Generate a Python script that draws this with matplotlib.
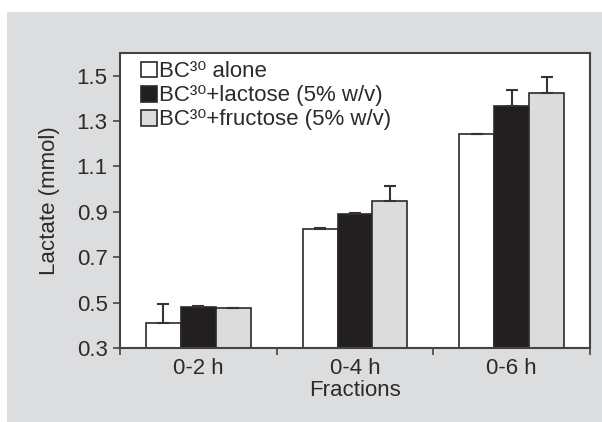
import matplotlib
matplotlib.use("Agg")
from matplotlib import pyplot as plt
from matplotlib.patches import Rectangle
import numpy as np

fractions = ["0-2 h", "0-4 h", "0-6 h"]
series_names = ["BC³⁰ alone", "BC³⁰+lactose (5% w/v)", "BC³⁰+fructose (5% w/v)"]
alone = [0.412, 0.824, 1.241]
alone_err = [0.083, 0.004, 0.004]
lactose = [0.482, 0.891, 1.366]
lactose_err = [0.002, 0.002, 0.069]
fructose = [0.476, 0.948, 1.425]
fructose_err = [0.002, 0.067, 0.071]
yticks = [0.3, 0.5, 0.7, 0.9, 1.1, 1.3, 1.5]

plt.rcParams["font.family"] = ["Liberation Sans", "DejaVu Sans"]

fs = 16
txt = "#2b2b2b"
edge = "#2a2a2a"

fig = plt.figure(figsize=(6.02, 4.22), dpi=100, facecolor="white")
fig.patches.append(Rectangle((7 / 602, 0), 1, 1 - 12 / 422, transform=fig.transFigure,
                             facecolor="#dcdddf", edgecolor="none", zorder=-10))
ax = fig.add_axes([120 / 602, 1 - 348 / 422, 470 / 602, 295 / 422])
ax.set_facecolor("white")

x = np.arange(1, len(fractions) + 1)
w = 0.223
colors = ["white", "#231f20", "#dcdcdc"]
vals = [alone, lactose, fructose]
errs = [alone_err, lactose_err, fructose_err]
for i in range(3):
    e = errs[i]
    ax.bar(x + (i - 1) * w, vals[i], w, bottom=0, color=colors[i], edgecolor=edge, linewidth=1.2,
           yerr=[np.zeros(len(e)), e], label=series_names[i],
           error_kw=dict(ecolor="#333333", elinewidth=1.5, capsize=4.3, capthick=1.5))

ax.set_xlim(0.5, 3.5)
ax.set_ylim(0.3, 1.6)
ax.set_yticks(yticks)
ax.set_yticklabels([f"{v:.1f}" for v in yticks], fontsize=fs, color=txt)
ax.set_xticks(x)
ax.set_xticklabels(fractions, fontsize=fs, color=txt)
ax.tick_params(axis="x", which="major", length=0, pad=7)
ax.set_xticks([0.5, 1.5, 2.5, 3.5], minor=True)
ax.tick_params(axis="x", which="minor", length=5, width=1.2, color="#444444", direction="out")
ax.tick_params(axis="y", length=5, width=1.2, color="#444444", direction="out", pad=4)
for s in ax.spines.values():
    s.set_color("#444444")
    s.set_linewidth(1.5)

ax.set_xlabel("Fractions", fontsize=fs, color=txt, labelpad=1)
ax.set_ylabel("Lactate (mmol)", fontsize=fs, color=txt, labelpad=12)

ax.legend(loc="upper left", bbox_to_anchor=(0.045, 0.972), frameon=False, fontsize=fs,
          handlelength=0.72, handleheight=0.72, handletextpad=0.1, labelspacing=0.14,
          borderpad=0, borderaxespad=0, labelcolor=txt)

fig.savefig("out.png", dpi=100, facecolor="white")
